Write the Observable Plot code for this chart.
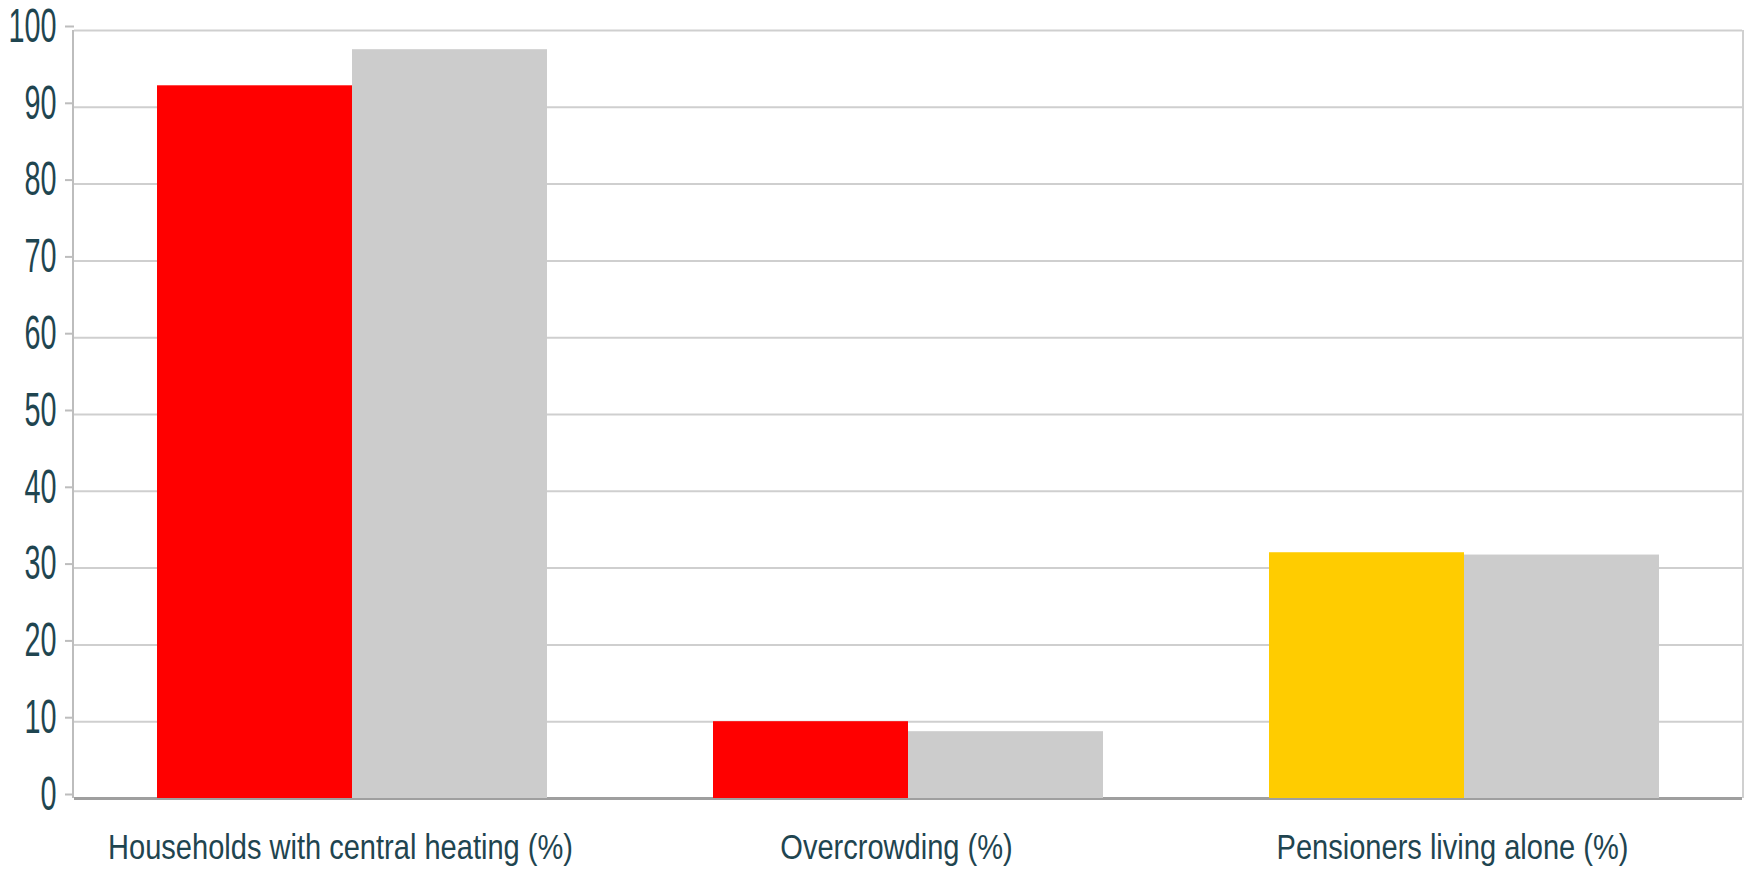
<!DOCTYPE html>
<html>
<head>
<meta charset="utf-8">
<script src="https://cdn.jsdelivr.net/npm/d3@7"></script>
<script src="https://cdn.jsdelivr.net/npm/@observablehq/plot@0.6"></script>
<style>
  html, body { margin: 0; padding: 0; background: #ffffff; }
  #chart svg { display: block; }
</style>
</head>
<body>
<div id="chart"></div>
<script>
const categories = ["Households with central heating (%)", "Overcrowding (%)", "Pensioners living alone (%)"];
const series = ["Local area", "Comparison area"];
const localValues = [92.8, 10.0, 32.0];
const comparisonValues = [97.5, 8.7, 31.7];
const localColours = ["#ff0000", "#ff0000", "#ffcc00"];
const comparisonColour = "#cccccc";
const yTicks = [0, 10, 20, 30, 40, 50, 60, 70, 80, 90, 100];

const data = [];
categories.forEach((c, i) => {
  data.push({category: c, series: series[0], value: localValues[i], colour: localColours[i]});
  data.push({category: c, series: series[1], value: comparisonValues[i], colour: comparisonColour});
});

const textColour = "#1f4550";
const font = "'Liberation Sans', Arial, sans-serif";

const chart = Plot.plot({
  width: 1750,
  height: 880,
  marginLeft: 73,
  marginRight: 7,
  marginTop: 30,
  marginBottom: 82,
  style: {fontFamily: font, color: textColour, background: "#ffffff"},
  fx: {domain: categories, padding: 0, label: null},
  x: {domain: series, paddingInner: 0, paddingOuter: 0.42, axis: null},
  y: {domain: [0, 100], label: null},
  color: {type: "identity"},
  marks: [
    Plot.gridY(yTicks, {stroke: "#cfcfcf", strokeOpacity: 1, strokeWidth: 2}),
    Plot.ruleY([0], {stroke: "#9f9f9f", strokeWidth: 3}),
    Plot.barY(data, {fx: "category", x: "series", y: "value", fill: "colour"}),
    Plot.axisY(yTicks, {
      anchor: "left", tickSize: 9, tickPadding: 9, stroke: "#bdbdbd", strokeWidth: 2,
      fill: textColour, fontSize: 48, dy: -4, label: null, tickFormat: d => String(d)
    }),
    Plot.axisFx({
      anchor: "bottom", tickSize: 0, tickPadding: 36, fill: textColour,
      fontSize: 35, dx: -12, label: null
    })
  ]
});

document.getElementById("chart").appendChild(chart);

// Axis line on the left and a light frame line on the right, taken from the scales' ranges
const fxRange = chart.scale("fx").range;
const yRange = chart.scale("y").range;
const svg = d3.select(chart);
svg.append("line")
  .attr("x1", fxRange[0]).attr("x2", fxRange[0])
  .attr("y1", yRange[1]).attr("y2", yRange[0])
  .attr("stroke", "#bdbdbd").attr("stroke-width", 2);
svg.append("line")
  .attr("x1", fxRange[1]).attr("x2", fxRange[1])
  .attr("y1", yRange[1]).attr("y2", yRange[0])
  .attr("stroke", "#d0d0d0").attr("stroke-width", 2);

// Tall, compressed lettering like the reference: append a horizontal squeeze to each label's own transform
function squeeze(selector, k) {
  svg.selectAll(selector).each(function() {
    const t = this.getAttribute("transform") || "";
    this.setAttribute("transform", (t + ` scale(${k},1)`).trim());
  });
}
squeeze('[aria-label="y-axis tick label"] text', 0.6);
squeeze('[aria-label="fx-axis tick label"] text', 0.83);
</script>
</body>
</html>
